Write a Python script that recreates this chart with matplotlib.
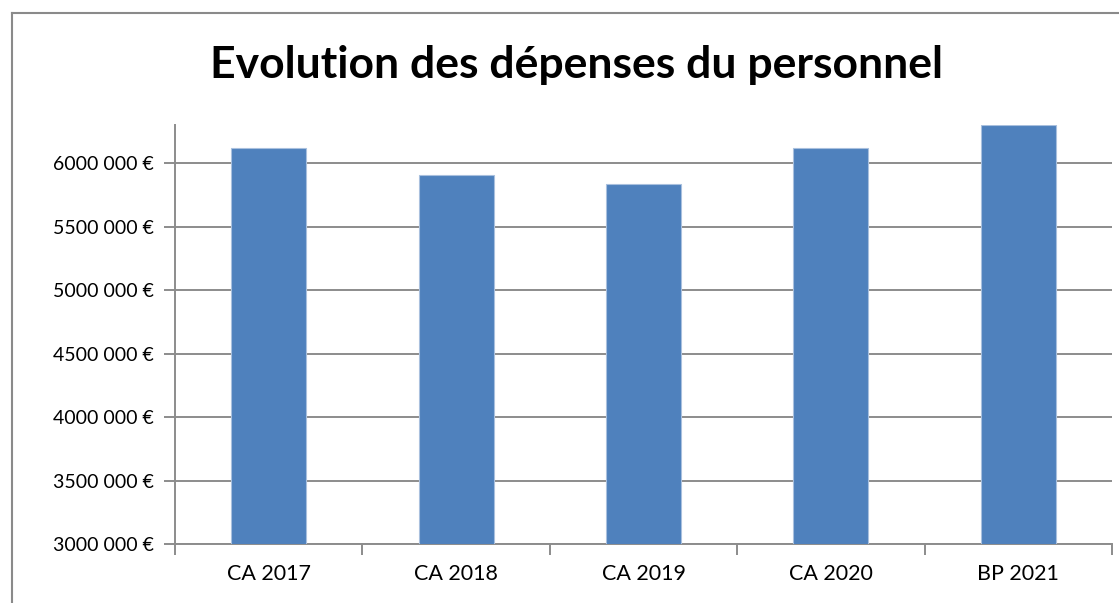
import matplotlib.pyplot as plt
from matplotlib.lines import Line2D

categories = ["CA 2017", "CA 2018", "CA 2019", "CA 2020", "BP 2021"]
values = [6116000, 5906000, 5832000, 6116000, 6300000]
y_ticks = [3000000, 3500000, 4000000, 4500000, 5000000, 5500000, 6000000]
y_tick_labels = ["3000 000 €", "3500 000 €", "4000 000 €", "4500 000 €",
                 "5000 000 €", "5500 000 €", "6000 000 €"]

W, H = 1119, 603
fig = plt.figure(figsize=(W / 100, H / 100), dpi=100)
plt.rcParams['font.family'] = ['Lato', 'DejaVu Sans']

# outer chart frame (only left and top visible in the crop)
fig.add_artist(Line2D([12 / W, 12 / W], [0, 1 - 13 / H], color='#8a8a8a', lw=1.5))
fig.add_artist(Line2D([12 / W, 1], [1 - 13 / H, 1 - 13 / H], color='#8a8a8a', lw=1.5))

ax = fig.add_axes([175 / W, 1 - 544.3 / H, (1112 - 175) / W, (544.3 - 125) / H])
x = range(len(categories))
ax.bar(x, values, width=0.4, color='#4F81BD', edgecolor='#a9c0de', linewidth=0.8, zorder=3)

ax.set_xlim(-0.5, len(categories) - 0.5)
ax.set_ylim(3000000, 6300000)
ax.set_yticks(y_ticks)
ax.set_yticklabels(y_tick_labels, fontsize=14)
ax.set_xticks(x)
ax.set_xticklabels(categories, fontsize=15.5)
ax.set_xticks([i - 0.5 for i in range(len(categories) + 1)], minor=True)

ax.grid(axis='y', color='#8c8c8c', lw=1.4, zorder=0)
for s in ['top', 'right']:
    ax.spines[s].set_visible(False)
for s in ['left', 'bottom']:
    ax.spines[s].set_color('#8c8c8c')
    ax.spines[s].set_linewidth(1.4)

ax.tick_params(axis='y', length=8, width=1.4, color='#8c8c8c', pad=7)
ax.tick_params(axis='x', which='major', length=0, pad=14)
ax.tick_params(axis='x', which='minor', length=8, width=1.4, color='#8c8c8c')

fig.text(576 / W, 1 - 65 / H, "Evolution des dépenses du personnel",
         ha='center', va='center', fontsize=32, fontweight='bold')

plt.savefig('out.png', dpi=100)
